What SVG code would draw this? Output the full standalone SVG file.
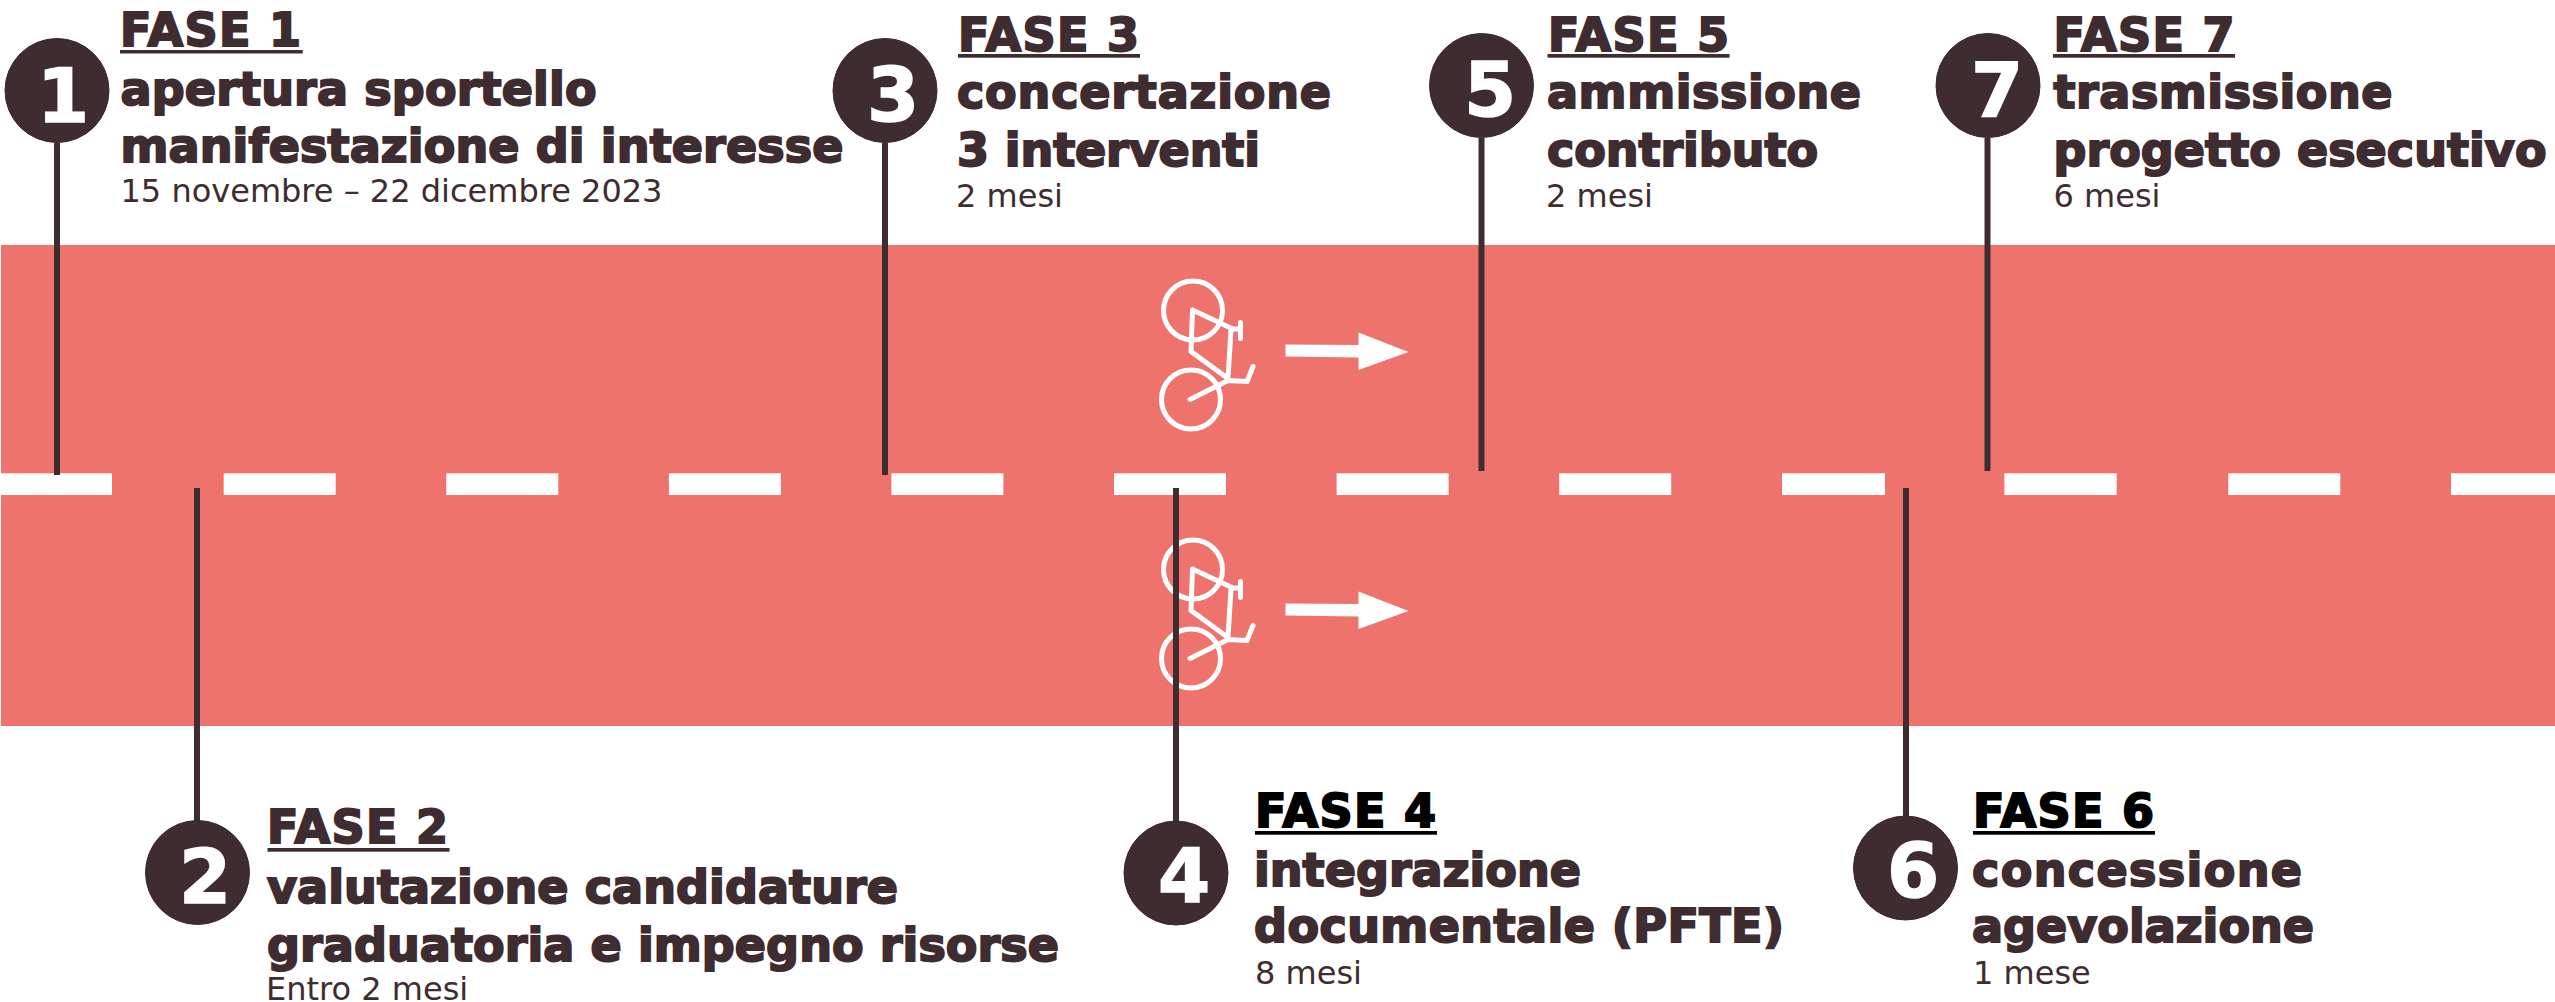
<svg xmlns="http://www.w3.org/2000/svg" width="2555" height="1002" viewBox="0 0 2555 1002">
<style>
text{font-family:"DejaVu Sans",sans-serif;fill:#3e2c30}
.h{font-size:46px;font-weight:700;stroke:#3e2c30;stroke-width:2px}
.t{font-size:46px;font-weight:700;stroke:#3e2c30;stroke-width:2px}
.k{fill:#000;stroke:#000}
.u{fill:#3e2c30}
.u2{fill:#000}
.s{font-size:32px}
.n{font-size:75px;font-weight:700;fill:#fff;stroke:#fff;stroke-width:1.5px;text-anchor:middle}
.c{fill:#3e2c30;stroke:#3a282c;stroke-width:1}
.l{stroke:#3e2c30;stroke-width:6;fill:none}
.d{fill:#fff}
.b{fill:none;stroke:#fff;stroke-width:5;stroke-linecap:round;stroke-linejoin:round}
.b2{fill:#fff}
</style>
<defs>
<g id="bike">
<circle class="b" cx="1193" cy="310.500" r="29.500"/>
<circle class="b" cx="1191" cy="399.500" r="29.500"/>
<path class="b" d="M1192.500 310L1191 351.500L1228 378.500L1231 329.500M1192.500 310L1233 329H1240M1240.500 322.500V338.500M1190 399.500L1228 380.500L1247 381.500L1253 366.500"/>
</g>
<path id="arrow" class="b2" d="M1285.500 344L1358.500 344.500V332L1408.500 351.500L1358.500 369.500V357L1285.500 356Z"/>
</defs>
<g id="road">
<rect x="1" y="245" width="2554" height="481" fill="#ee736d"/>
<g class="d">
<rect x="1" y="473.300" width="111" height="21.700"/>
<rect x="223.700" y="473.300" width="112" height="21.700"/>
<rect x="446.300" y="473.300" width="112" height="21.700"/>
<rect x="668.900" y="473.300" width="112" height="21.700"/>
<rect x="891.400" y="473.300" width="112" height="21.700"/>
<rect x="1114" y="473.300" width="112" height="21.700"/>
<rect x="1336.600" y="473.300" width="112" height="21.700"/>
<rect x="1559.200" y="473.300" width="112" height="21.700"/>
<rect x="1782" y="473.300" width="103" height="21.700"/>
<rect x="2004.400" y="473.300" width="112.300" height="21.700"/>
<rect x="2228.300" y="473.300" width="112" height="21.700"/>
<rect x="2451" y="473.300" width="104" height="21.700"/>
</g>
<use href="#bike"/>
<use href="#arrow" y="0.500"/>
<use href="#bike" y="259"/>
<use href="#arrow" y="259.500"/>
</g>
<g id="connectors">
<path class="l" d="M57 143V475"/>
<path class="l" d="M197 488V821"/>
<path class="l" d="M885 143V475"/>
<path class="l" d="M1176 488V821"/>
<path class="l" d="M1481.500 138V471"/>
<path class="l" d="M1906 488V816"/>
<path class="l" d="M1987.500 138V471"/>
</g>
<g id="fase1">
<circle class="c" cx="57" cy="90.500" r="52"/><text class="n" x="63" y="122">1</text>
<text class="h" x="120" y="46" textLength="181">FASE 1</text><rect class="u" x="120" y="50" width="182.700" height="3.500"/>
<text class="t" x="120.500" y="104.500" textLength="476">apertura sportello</text>
<text class="t" x="120.500" y="161.500" textLength="723">manifestazione di interesse</text>
<text class="s" x="120.500" y="202">15 novembre – 22 dicembre 2023</text>
</g>
<g id="fase2">
<circle class="c" cx="197.500" cy="872.500" r="52"/><text class="n" x="205" y="903">2</text>
<text class="h" x="267" y="843" textLength="181">FASE 2</text><rect class="u" x="267.500" y="848" width="182" height="3.700"/>
<text class="t" x="267" y="903" textLength="631">valutazione candidature</text>
<text class="t" x="267" y="960.500" textLength="792">graduatoria e impegno risorse</text>
<text class="s" x="266" y="999.500">Entro 2 mesi</text>
</g>
<g id="fase3">
<circle class="c" cx="885" cy="90.500" r="52"/><text class="n" x="893" y="121">3</text>
<text class="h" x="958" y="50.500" textLength="181">FASE 3</text><rect class="u" x="958" y="54" width="182" height="3.700"/>
<text class="t" x="957" y="107.500" textLength="374">concertazione</text>
<text class="t" x="957" y="165.500" textLength="303">3 interventi</text>
<text class="s" x="956" y="207">2 mesi</text>
</g>
<g id="fase4">
<circle class="c" cx="1176" cy="873" r="52"/><text class="n" x="1184" y="902">4</text>
<text class="h k" x="1255" y="826.500" textLength="181">FASE 4</text><rect class="u2" x="1255" y="831" width="182" height="3.700"/>
<text class="t" x="1254" y="885.500" textLength="327">integrazione</text>
<text class="t" x="1254" y="942" textLength="530">documentale (PFTE)</text>
<text class="s" x="1255" y="983.500">8 mesi</text>
</g>
<g id="fase5">
<circle class="c" cx="1481.500" cy="85.500" r="52"/><text class="n" x="1490" y="116">5</text>
<text class="h" x="1548" y="50.500" textLength="181">FASE 5</text><rect class="u" x="1547.500" y="54" width="182" height="3.700"/>
<text class="t" x="1547" y="107.500" textLength="314">ammissione</text>
<text class="t" x="1547" y="165.500" textLength="271">contributo</text>
<text class="s" x="1546" y="207">2 mesi</text>
</g>
<g id="fase6">
<circle class="c" cx="1905.500" cy="868" r="52"/><text class="n" x="1913" y="897">6</text>
<text class="h k" x="1973" y="826.500" textLength="181">FASE 6</text><rect class="u2" x="1973" y="831" width="182" height="3.700"/>
<text class="t" x="1972" y="885.500" textLength="330">concessione</text>
<text class="t" x="1972" y="942" textLength="342">agevolazione</text>
<text class="s" x="1973" y="983.500">1 mese</text>
</g>
<g id="fase7">
<circle class="c" cx="1988" cy="85.500" r="52"/><text class="n" x="1997" y="116">7</text>
<text class="h" x="2053.500" y="50.500" textLength="181">FASE 7</text><rect class="u" x="2053" y="54" width="182" height="3.700"/>
<text class="t" x="2053.500" y="107.500" textLength="339">trasmissione</text>
<text class="t" x="2053.500" y="165.500" textLength="493">progetto esecutivo</text>
<text class="s" x="2053.500" y="207">6 mesi</text>
</g>
</svg>
